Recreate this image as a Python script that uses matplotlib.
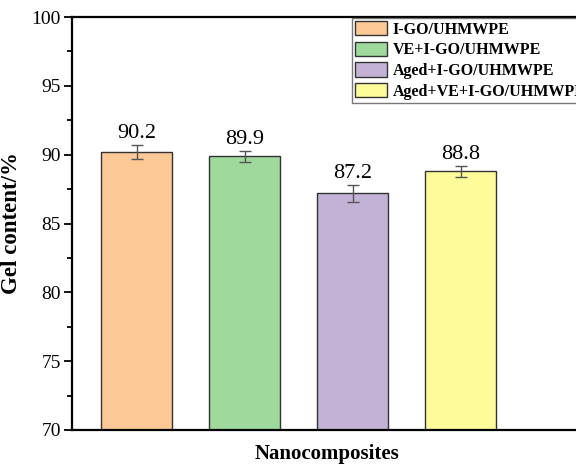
import matplotlib.pyplot as plt
from matplotlib.ticker import MultipleLocator

plt.rcParams['font.family'] = ['Liberation Serif', 'DejaVu Serif']

# data
labels = ['I-GO/UHMWPE', 'VE+I-GO/UHMWPE', 'Aged+I-GO/UHMWPE', 'Aged+VE+I-GO/UHMWPE']
gel = [90.2, 89.9, 87.2, 88.8]
err = [0.5, 0.4, 0.6, 0.4]
colors = ['#FBC896', '#9FD99B', '#C3B2D6', '#FEFB9A']
positions = [1, 2, 3, 4]

fig = plt.figure(figsize=(5.76, 4.65), dpi=100)
# right spine sits outside the figure, as in the original
ax = fig.add_axes([0.125, 0.0753, 0.917, 0.888])

bars = ax.bar(positions, gel, width=0.66, color=colors, edgecolor='#333333',
              linewidth=1.0, label=labels, zorder=2)
ax.errorbar(positions, gel, yerr=err, fmt='none', ecolor='#555555',
            elinewidth=1.0, capsize=4, capthick=1.0, zorder=3)

for x, v, e in zip(positions, gel, err):
    ax.text(x, v + e + 0.15, f'{v:.1f}', ha='center', va='bottom', fontsize=16)

ax.set_xlim(0.4, 5.29)
ax.set_ylim(70, 100)
ax.yaxis.set_major_locator(MultipleLocator(5))
ax.yaxis.set_minor_locator(MultipleLocator(2.5))
ax.set_xticks([])
ax.tick_params(axis='y', which='major', direction='out', length=6, width=1.3,
               labelsize=14, pad=2)
ax.tick_params(axis='y', which='minor', direction='out', length=3.5, width=1.3)
for side in ['left', 'bottom', 'top', 'right']:
    ax.spines[side].set_linewidth(1.6)

ax.set_ylabel('Gel content/%', fontsize=16.5, fontweight='bold')
ax.yaxis.set_label_coords(-(72 - 22) / 528, 0.5)
ax.set_xlabel('Nanocomposites', fontsize=15, fontweight='bold')
ax.xaxis.set_label_coords(0.483, -0.035)
ax.xaxis.label.set_va('top')

leg = ax.legend(loc='upper left', bbox_to_anchor=(352 / 576, 1 - 18 / 465),
                bbox_transform=fig.transFigure, prop={'weight': 'bold', 'size': 11.5},
                frameon=True, fancybox=False, edgecolor='#555555',
                handlelength=2.0, handleheight=1.0, handletextpad=0.35,
                labelspacing=0.25, borderpad=0.2, borderaxespad=0)
leg.get_frame().set_linewidth(1.0)

plt.savefig('out.png', dpi=100)
